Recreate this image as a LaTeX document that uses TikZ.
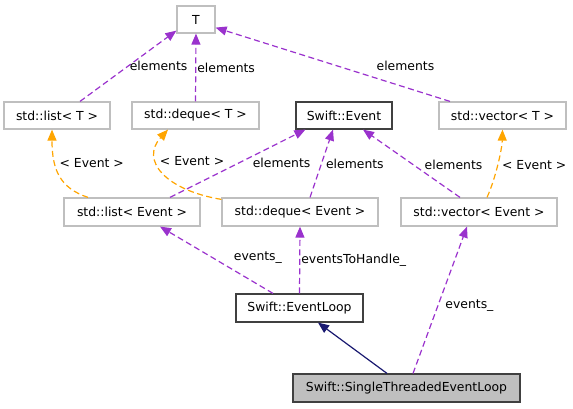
\documentclass[tikz,border=0pt]{standalone}
\usepackage{fontspec}
\setmainfont{DejaVu Sans}
\usepackage{tikz}
\usetikzlibrary{arrows.meta}
\definecolor{linepurple}{RGB}{154,50,205}
\definecolor{lineorange}{RGB}{255,165,0}
\definecolor{linenavy}{RGB}{25,25,112}
\definecolor{boxgray}{RGB}{191,191,191}
\definecolor{boxdark}{RGB}{64,64,64}
\tikzset{
  usage/.style={-{Triangle[length=11bp,width=9bp]}, line width=1.2bp, draw=linepurple, dash pattern=on 6bp off 3.5bp},
  instance/.style={usage, draw=lineorange},
  inherit/.style={-{Triangle[length=11bp,width=9bp]}, line width=1.2bp, draw=linenavy},
  edgelabel/.style={font=\fontsize{12.4bp}{14bp}\selectfont, text=black, inner sep=1bp},
  cls/.style={
    draw=boxgray,
    fill=white,
    rectangle,
    line width=1.2bp,
    minimum height=28bp,
    inner sep=0pt,
    font=\fontsize{12.4bp}{14bp}\selectfont
  },
  docd/.style={cls, draw=boxdark},
  focus/.style={docd, fill=boxgray}
}
\begin{document}
\begin{tikzpicture}[x=1bp, y=-1bp]
\useasboundingbox (0,0) rectangle (573,408);

% Template parameter
\node[cls, minimum width=38bp, minimum height=27bp] (T) at (196,19.5) {T};

% Templates
\node[cls, minimum width=106bp, minimum height=27bp] (listT) at (57,115.5) {std::list< T >};
\node[cls, minimum width=127bp, minimum height=27bp] (dequeT) at (195.5,115.5) {std::deque< T >};
\node[docd, minimum width=96bp, minimum height=27bp] (event) at (344,115.5) {Swift::Event};
\node[cls, minimum width=127bp, minimum height=27bp] (vectorT) at (502.5,115.5) {std::vector< T >};

% Instantiations
\node[cls, minimum width=136bp] (listE) at (132,212) {std::list< Event >};
\node[cls, minimum width=156bp] (dequeE) at (300,212) {std::deque< Event >};
\node[cls, minimum width=156bp] (vectorE) at (479,212) {std::vector< Event >};

% Classes
\node[docd, minimum width=127bp] (loop) at (299.5,308) {Swift::EventLoop};
\node[focus, minimum width=227bp] (single) at (406.5,388) {Swift::SingleThreadedEventLoop};

% Members: elements of the templates
\draw[usage] ([xshift=23bp]listT.north) --
  node[edgelabel, pos=0.5, anchor=west] {elements} ([yshift=3bp]T.south west);
\draw[usage] (dequeT.north) --
  node[edgelabel, pos=0.5, anchor=west] {elements} (T.south);
\draw[usage] ([xshift=-52.5bp]vectorT.north) --
  node[edgelabel, pos=0.19, above=15bp] {elements} ([yshift=6bp]T.south east);

% Template arguments
\draw[instance] ([xshift=-44bp]listE.north) .. controls (60,188) and (52,170) ..
  node[edgelabel, pos=0.67, anchor=west, xshift=3bp] {< Event >} ([xshift=-5bp]listT.south);
\draw[instance] ([yshift=-2bp]dequeE.north west) .. controls (165,190) and (140,160) ..
  node[edgelabel, pos=0.64, anchor=west, xshift=1bp] {< Event >} ([xshift=-27.5bp]dequeT.south);
\draw[instance] ([xshift=8bp]vectorE.north) .. controls (495,180) and (502,150) ..
  node[edgelabel, pos=0.5, anchor=west, xshift=3bp] {< Event >} (vectorT.south);

% Members: elements of Swift::Event
\draw[usage] ([xshift=38bp]listE.north) --
  node[edgelabel, pos=0.6, anchor=north west] {elements} ([xshift=10bp]event.south west);
\draw[usage] ([xshift=10bp]dequeE.north) --
  node[edgelabel, pos=0.5, anchor=west, xshift=3bp] {elements} ([xshift=-11bp]event.south);
\draw[usage] ([xshift=-19bp]vectorE.north) --
  node[edgelabel, pos=0.38, anchor=south west] {elements} ([xshift=19bp]event.south);

% Members of the loops
\draw[usage] ([xshift=-26.5bp]loop.north) --
  node[edgelabel, pos=0.36, anchor=south west, yshift=4bp] {events\_} ([xshift=28bp]listE.south);
\draw[usage] (loop.north) --
  node[edgelabel, pos=0.5, anchor=west] {eventsToHandle\_} (dequeE.south);
\draw[usage] ([xshift=6.5bp]single.north) --
  node[edgelabel, pos=0.46, anchor=west, xshift=6bp] {events\_} ([xshift=-12bp]vectorE.south);

% Inheritance
\draw[inherit] ([xshift=-19.5bp]single.north) -- ([xshift=18.5bp]loop.south);

\end{tikzpicture}
\end{document}
